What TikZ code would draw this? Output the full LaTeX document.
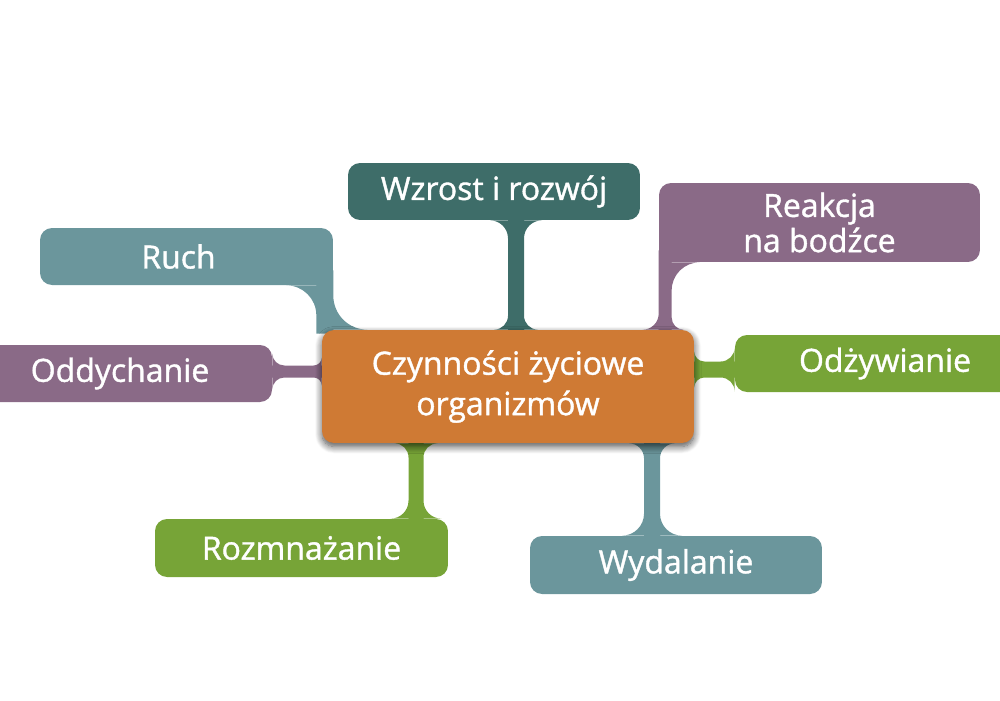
\documentclass[tikz,border=0pt]{standalone}
\usepackage{fontspec}
\setmainfont{Open Sans}[FakeBold=1.2]
\usepackage{tikz}
\usetikzlibrary{calc,shadows.blur,backgrounds}
\definecolor{orangec}{HTML}{CF7A34}
\definecolor{tealdark}{HTML}{3E6D69}
\definecolor{tealgrey}{HTML}{6B969C}
\definecolor{plum}{HTML}{8A6A87}
\definecolor{leaf}{HTML}{77A437}

\begin{document}
\begin{tikzpicture}[
  x=0.02cm, y=-0.02cm,
  box/.style={
    rounded corners=0.24cm,
    minimum width=5.84cm,
    minimum height=1.14cm,
    inner sep=0pt,
    align=center,
    text=white,
    font=\fontsize{18.2}{20}\selectfont
  },
  centrebox/.style={
    box,
    fill=orangec,
    minimum width=7.44cm,
    minimum height=2.26cm,
    font=\fontsize{18.2}{23}\selectfont,
    blur shadow={shadow xshift=0pt, shadow yshift=-2pt,
      shadow blur radius=4pt, shadow blur steps=10, shadow opacity=70}
  },
  % vertical stem: half width, fillet at top, fillet at bottom
  vstem/.style n args={3}{to path={
    let \p1=(\tikztostart), \p2=(\tikztotarget) in
    (\x1-#1, \y1+2pt) rectangle (\x1+#1, \y2-2pt)
    (\x1-#1-#2, \y1) .. controls (\x1-#1-0.448*#2, \y1) and (\x1-#1, \y1-0.448*#2)
      .. (\x1-#1, \y1-#2) -- (\x1-#1, \y1) -- cycle
    (\x1+#1+#2, \y1) .. controls (\x1+#1+0.448*#2, \y1) and (\x1+#1, \y1-0.448*#2)
      .. (\x1+#1, \y1-#2) -- (\x1+#1, \y1) -- cycle
    (\x1-#1-#3, \y2) .. controls (\x1-#1-0.448*#3, \y2) and (\x1-#1, \y2+0.448*#3)
      .. (\x1-#1, \y2+#3) -- (\x1-#1, \y2) -- cycle
    (\x1+#1+#3, \y2) .. controls (\x1+#1+0.448*#3, \y2) and (\x1+#1, \y2+0.448*#3)
      .. (\x1+#1, \y2+#3) -- (\x1+#1, \y2) -- cycle
  }},
  % horizontal stem: half width, fillet at left, fillet at right
  hstem/.style n args={3}{to path={
    let \p1=(\tikztostart), \p2=(\tikztotarget) in
    (\x1-2pt, \y1-#1) rectangle (\x2+2pt, \y1+#1)
    (\x1, \y1+#1+#2) .. controls (\x1, \y1+#1+0.448*#2) and (\x1+0.448*#2, \y1+#1)
      .. (\x1+#2, \y1+#1) -- (\x1, \y1+#1) -- cycle
    (\x1, \y1-#1-#2) .. controls (\x1, \y1-#1-0.448*#2) and (\x1+0.448*#2, \y1-#1)
      .. (\x1+#2, \y1-#1) -- (\x1, \y1-#1) -- cycle
    (\x2, \y1+#1+#3) .. controls (\x2, \y1+#1+0.448*#3) and (\x2-0.448*#3, \y1+#1)
      .. (\x2-#3, \y1+#1) -- (\x2, \y1+#1) -- cycle
    (\x2, \y1-#1-#3) .. controls (\x2, \y1-#1-0.448*#3) and (\x2-0.448*#3, \y1-#1)
      .. (\x2-#3, \y1-#1) -- (\x2, \y1-#1) -- cycle
  }}
]
  \useasboundingbox (0,0) rectangle (1000,700);

  % central topic
  \node[centrebox] (centre) at (508,386.5) {Czynności życiowe\\organizmów};

  % branches
  \node[box,fill=tealdark] (wzrost) at (494,191.5) {Wzrost i rozwój};
  \node[box,fill=tealgrey,minimum width=5.86cm] (ruch) at (186.5,256.5)
    {\hspace*{-0.32cm}Ruch};
  \node[box,fill=plum,minimum width=6.08cm] (oddych) at (120,373.5) {Oddychanie};
  \node[box,fill=plum,minimum width=6.42cm,minimum height=1.58cm]
    (reakcja) at (819.5,222.5) {Reakcja\\na bodźce};
  \node[box,fill=leaf,minimum width=6cm] (odzyw) at (885,363.5) {Odżywianie};
  \node[box,fill=leaf,minimum width=5.86cm,minimum height=1.16cm]
    (rozmn) at (301.5,548) {Rozmnażanie};
  \node[box,fill=tealgrey,minimum height=1.16cm] (wydal) at (676,565) {Wydalanie};

  \coordinate (wz) at ($(wzrost.south)+(22,0)$);
  \coordinate (rz) at ($(centre.south)+(-92,0)$);
  \coordinate (wd) at ($(centre.south)+(144,0)$);
  \coordinate (od) at ($(oddych.east)+(0,-2)$);
  \coordinate (oz) at ($(odzyw.west)+(0,6)$);
  \coordinate (rc) at (ruch.south east |- centre.north);
  \coordinate (kc) at (reakcja.south west |- centre.north);

  % connectors
  \begin{scope}[on background layer]
    \fill[tealdark,vstem={0.16cm}{0.36cm}{0.28cm}] (wz) to (wz |- centre.north);
    \fill[leaf,vstem={0.15cm}{0.28cm}{0.36cm}] (rz) to (rz |- rozmn.north);
    \fill[tealgrey,vstem={0.16cm}{0.3cm}{0.44cm}] (wd) to (wd |- wydal.north);
    \fill[plum,hstem={0.12cm}{0.24cm}{0.16cm}] (od) to (od -| centre.west);
    \fill[leaf,hstem={0.16cm}{0.2cm}{0.28cm}] (oz -| centre.east) to (oz);
    % Ruch: stem in the corner of both boxes
    \fill[tealgrey]
      ($(ruch.south east)+(-17,-15)$) rectangle ($(rc)+(0,4)$)
      ($(ruch.south east)+(-47,0)$) .. controls ($(ruch.south east)+(-30.4,0)$)
        and ($(ruch.south east)+(-17,13.4)$) .. ($(ruch.south east)+(-17,30)$)
        -- ($(ruch.south east)+(-17,0)$) -- cycle
      ($(rc)+(34,0)$) .. controls ($(rc)+(15.2,0)$) and ($(rc)+(0,-15.2)$)
        .. ($(rc)+(0,-34)$) -- (rc) -- cycle;
    % Reakcja: stem along the left side of the box
    \fill[plum]
      ($(reakcja.south west)+(0,-12)$) rectangle ($(kc)+(13,4)$)
      ($(reakcja.south west)+(41,0)$) .. controls ($(reakcja.south west)+(25.5,0)$)
        and ($(reakcja.south west)+(13,12.5)$) .. ($(reakcja.south west)+(13,28)$)
        -- ($(reakcja.south west)+(13,0)$) -- cycle
      ($(kc)+(-16,0)$) .. controls ($(kc)+(-7.2,0)$) and ($(kc)+(0,-7.2)$)
        .. ($(kc)+(0,-16)$) -- (kc) -- cycle
      ($(kc)+(25,0)$) .. controls ($(kc)+(18.4,0)$) and ($(kc)+(13,-5.4)$)
        .. ($(kc)+(13,-12)$) -- ($(kc)+(13,0)$) -- cycle;
  \end{scope}
\end{tikzpicture}
\end{document}
